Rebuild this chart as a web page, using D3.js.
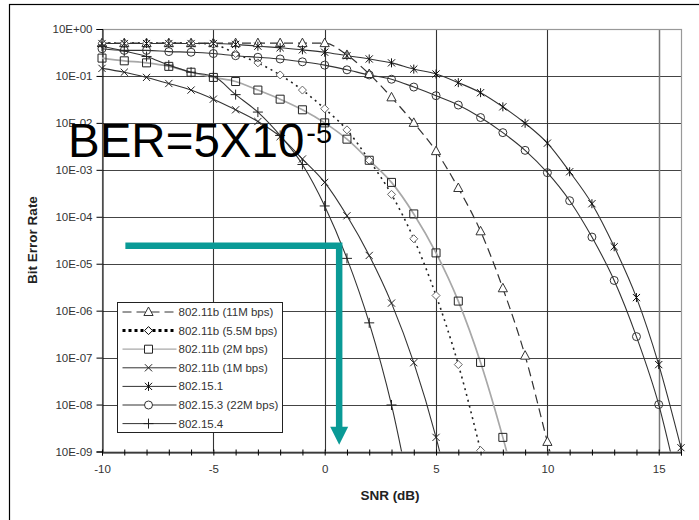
<!DOCTYPE html>
<html>
<head>
<meta charset="utf-8">
<script src="https://cdn.jsdelivr.net/npm/d3@7/dist/d3.min.js"></script>
<style>
  body { margin: 0; background: #fff; }
  svg { display: block; font-family: "Liberation Sans", Arial, sans-serif; }
</style>
</head>
<body>
<svg id="chart" width="699" height="520"></svg>
<script>
// SNR steps (dB), every series starts at -10 dB
const snrDb = [-10,-9,-8,-7,-6,-5,-4,-3,-2,-1,0,1,2,3,4,5,6,7,8,9,10,11,12,13,14,15,16];

// bit error rates (points past 1E-09 are clipped)
const ber11b11M = [5.0e-1,5.0e-1,5.0e-1,5.0e-1,5.0e-1,5.0e-1,5.0e-1,5.0e-1,5.0e-1,5.0e-1,5.0e-1,2.8e-1,1.1e-1,3.5e-2,1.0e-2,2.5e-3,4.1e-4,4.9e-5,3.0e-6,1.1e-7,1.6e-9,2.5e-11];
const ber11b5M5 = [5.0e-1,5.0e-1,5.0e-1,5.0e-1,5.0e-1,4.7e-1,3.0e-1,1.9e-1,1.05e-1,5.0e-2,2.0e-2,7.1e-3,1.6e-3,3.0e-4,3.4e-5,2.1e-6,7.1e-8,1.05e-9];
const ber11b2M = [2.4e-1,2.1e-1,1.9e-1,1.6e-1,1.2e-1,9.3e-2,7.6e-2,5.0e-2,3.2e-2,1.9e-2,1.0e-2,4.5e-3,1.6e-3,5.4e-4,1.15e-4,1.7e-5,1.6e-6,7.9e-8,2.0e-9,3.0e-11];
const ber11b1M = [1.45e-1,1.2e-1,9.3e-2,6.9e-2,5.0e-2,3.2e-2,1.9e-2,1.07e-2,5.1e-3,1.7e-3,5.4e-4,1.05e-4,1.5e-5,1.45e-6,7.8e-8,2.0e-9,2.0e-11];
const ber15_1 = [4.9e-1,4.9e-1,4.9e-1,4.9e-1,4.9e-1,4.9e-1,4.7e-1,4.3e-1,4.0e-1,3.6e-1,3.2e-1,2.7e-1,2.3e-1,1.9e-1,1.4e-1,1.1e-1,7.2e-2,4.4e-2,2.2e-2,9.8e-3,3.7e-3,9.1e-4,1.9e-4,2.3e-5,1.9e-6,7.1e-8,1.2e-9];
const ber15_3 = [3.8e-1,3.5e-1,3.5e-1,3.3e-1,3.2e-1,3.0e-1,2.7e-1,2.5e-1,2.3e-1,2.0e-1,1.7e-1,1.35e-1,1.05e-1,8.5e-2,5.8e-2,3.8e-2,2.4e-2,1.3e-2,6.2e-3,2.6e-3,8.7e-4,2.2e-4,3.7e-5,4.4e-6,2.8e-7,1.0e-8,1.0e-10];
const ber15_4 = [4.3e-1,3.4e-1,2.6e-1,1.7e-1,1.2e-1,9.8e-2,4.0e-2,1.7e-2,5.4e-3,1.3e-3,1.7e-4,1.3e-5,5.5e-7,9.8e-9,5.0e-11];

const seriesNames = ["802.11b (11M bps)", "802.11b (5.5M bps)", "802.11b (2M bps)", "802.11b (1M bps)",
                     "802.15.1", "802.15.3 (22M bps)", "802.15.4"];

const yTickValues = [1, 1e-1, 1e-2, 1e-3, 1e-4, 1e-5, 1e-6, 1e-7, 1e-8, 1e-9];
const yTickLabels = ["10E+00", "10E-01", "10E-02", "10E-03", "10E-04", "10E-05", "10E-06", "10E-07", "10E-08", "10E-09"];
const xTickLabels = [-10, -5, 0, 5, 10, 15];

// the teal annotation arrow: from (-8.95 dB, 2.4E-05) across, then down to 1.4E-09
const arrowSnr = [-8.95, 0.65];
const arrowBer = [2.4e-5, 1.4e-9];

const svg = d3.select("#chart");
const plot = {left: 102, right: 681, top: 29, bottom: 451.5};

const x = d3.scaleLinear().domain([-10, 16]).range([plot.left, plot.right]);
const y = d3.scaleLog().domain([1e-9, 1]).range([plot.bottom, plot.top]);

// outer frame
svg.append("rect")
  .attr("x", 9.5).attr("y", 4.5).attr("width", 720).attr("height", 540)
  .attr("fill", "#fff").attr("stroke", "#000").attr("stroke-width", 1.2);

// grid
svg.append("g").selectAll("line").data(yTickValues).join("line")
  .attr("x1", plot.left).attr("x2", plot.right)
  .attr("y1", d => Math.round(y(d)) + 0.5).attr("y2", d => Math.round(y(d)) + 0.5)
  .attr("stroke", "#444").attr("stroke-width", 1.1);

svg.append("g").selectAll("line").data(xTickLabels.filter(d => d > -10)).join("line")
  .attr("x1", d => Math.round(x(d)) + 0.5).attr("x2", d => Math.round(x(d)) + 0.5)
  .attr("y1", plot.top).attr("y2", plot.bottom)
  .attr("stroke", d => d === 15 ? "#777" : "#333").attr("stroke-width", d => d === 15 ? 1.5 : 1.1);

svg.append("rect")
  .attr("x", plot.left + 0.5).attr("y", plot.top + 0.5)
  .attr("width", plot.right - plot.left).attr("height", plot.bottom - plot.top)
  .attr("fill", "none").attr("stroke", "#999").attr("stroke-width", 1.2);

// axes
const yAxis = svg.append("g")
  .attr("transform", `translate(${plot.left + 0.5},0)`)
  .call(d3.axisLeft(y).tickValues(yTickValues).tickSize(6).tickPadding(4)
    .tickFormat((d, i) => yTickLabels[i]));
yAxis.select(".domain").attr("stroke", "#000");
yAxis.selectAll(".tick line").attr("stroke", "#000");
yAxis.selectAll("text").attr("font-size", 11.5).attr("fill", "#333")
  .attr("font-family", "'Liberation Sans', Arial, sans-serif");

const xAxis = svg.append("g")
  .attr("transform", `translate(0,${Math.round(plot.bottom) + 0.5})`)
  .call(d3.axisBottom(x).tickValues(snrDb).tickSize(3).tickPadding(9)
    .tickFormat(d => xTickLabels.includes(d) ? d : ""));
xAxis.select(".domain").attr("stroke", "#000");
xAxis.selectAll(".tick line").attr("y1", -3).attr("stroke", "#000");
xAxis.selectAll("text").attr("font-size", 11.5).attr("fill", "#333")
  .attr("font-family", "'Liberation Sans', Arial, sans-serif");

svg.append("text")
  .attr("transform", "translate(37,240) rotate(-90)")
  .attr("text-anchor", "middle")
  .attr("font-size", 13.5).attr("font-weight", "bold").attr("fill", "#222")
  .text("Bit Error Rate");

svg.append("text")
  .attr("x", 390).attr("y", 500)
  .attr("text-anchor", "middle")
  .attr("font-size", 13.5).attr("font-weight", "bold").attr("fill", "#222")
  .text("SNR (dB)");

// marker shapes
function markerPath(kind) {
  switch (kind) {
    case "triangle": return "M0,-5L4.6,3.5L-4.6,3.5Z";
    case "diamond":  return "M0,-4L4,0L0,4L-4,0Z";
    case "square":   return "M-4,-4H4V4H-4Z";
    case "x":        return "M-3.6,-3.6L3.6,3.6M-3.6,3.6L3.6,-3.6";
    case "asterisk": return "M-3.6,-3.6L3.6,3.6M-3.6,3.6L3.6,-3.6M0,-4.5V4.5";
    case "circle":   return "M4,0A4,4 0 1,1 -4,0A4,4 0 1,1 4,0Z";
    case "plus":     return "M0,-5V5M-5,0H5";
  }
}

const seriesValues = [ber11b11M, ber11b5M5, ber11b2M, ber11b1M, ber15_1, ber15_3, ber15_4];
const seriesStyle = [
  {marker: "triangle", stroke: "#333", width: 1.2, dash: "9,5", mStroke: "#333", mFill: "#fff"},
  {marker: "diamond",  stroke: "#222", width: 1.6, dash: "2,4", mStroke: "#666", mFill: "#fff"},
  {marker: "square",   stroke: "#a8a8a8", width: 1.7, dash: null, mStroke: "#222", mFill: "none"},
  {marker: "x",        stroke: "#333", width: 1.1, dash: null, mStroke: "#222", mFill: "none"},
  {marker: "asterisk", stroke: "#333", width: 1.1, dash: null, mStroke: "#111", mFill: "none"},
  {marker: "circle",   stroke: "#333", width: 1.1, dash: null, mStroke: "#333", mFill: "none"},
  {marker: "plus",     stroke: "#333", width: 1.1, dash: null, mStroke: "#222", mFill: "none"}
];
const series = seriesNames.map((name, i) => ({
  name: name,
  style: seriesStyle[i],
  points: seriesValues[i].map((v, j) => ({snr: snrDb[j], ber: v}))
}));

svg.append("clipPath").attr("id", "plotClip")
  .append("rect")
  .attr("x", plot.left - 6).attr("y", plot.top - 6)
  .attr("width", plot.right - plot.left + 12).attr("height", plot.bottom - plot.top + 6);

const line = d3.line()
  .x(d => x(d.snr))
  .y(d => y(d.ber))
  .curve(d3.curveMonotoneX);

const lines = svg.append("g").attr("clip-path", "url(#plotClip)");
series.forEach(s => {
  lines.append("path")
    .datum(s.points)
    .attr("fill", "none")
    .attr("stroke", s.style.stroke)
    .attr("stroke-width", s.style.width)
    .attr("stroke-dasharray", s.style.dash)
    .attr("d", line);
});
series.forEach(s => {
  lines.append("g").selectAll("path")
    .data(s.points.filter(d => d.ber >= 1e-9 * 0.9))
    .join("path")
    .attr("transform", d => `translate(${x(d.snr)},${y(d.ber)})`)
    .attr("d", markerPath(s.style.marker))
    .attr("fill", s.style.mFill)
    .attr("stroke", s.style.mStroke)
    .attr("stroke-width", 1);
});

// legend
const legend = svg.append("g").attr("transform", "translate(117.5,302.5)");
legend.append("rect")
  .attr("width", 165).attr("height", 130)
  .attr("fill", "#fff").attr("stroke", "#222").attr("stroke-width", 1);
series.forEach((s, i) => {
  const ly = 9.5 + i * 18.6;
  const g = legend.append("g").attr("transform", `translate(0,${ly})`);
  g.append("line")
    .attr("x1", 5).attr("x2", 59).attr("y1", 0).attr("y2", 0)
    .attr("stroke", i === 1 ? "#000" : s.style.stroke)
    .attr("stroke-width", i === 1 ? 3 : (i === 2 ? 1.2 : 1))
    .attr("stroke-dasharray", i === 1 ? "3,3" : s.style.dash);
  g.append("path")
    .attr("transform", "translate(31,0)")
    .attr("d", markerPath(s.style.marker))
    .attr("fill", "#fff")
    .attr("stroke", i === 1 ? "#000" : s.style.mStroke)
    .attr("stroke-width", 1);
  g.append("text")
    .attr("x", 61).attr("y", 4)
    .attr("font-size", 11.5).attr("fill", "#333")
    .text(s.name);
});

// annotation
const teal = "#0a9a96";
const ax0 = x(arrowSnr[0]), ax1 = x(arrowSnr[1]);
const ay0 = y(arrowBer[0]), ay1 = y(arrowBer[1]);
svg.append("path")
  .attr("d", `M${ax0},${ay0}H${ax1}V${ay1 - 17}`)
  .attr("fill", "none").attr("stroke", teal).attr("stroke-width", 6.5)
  .attr("stroke-linejoin", "miter");
svg.append("path")
  .attr("d", `M${ax1 - 9},${ay1 - 18}H${ax1 + 9}L${ax1},${ay1}Z`)
  .attr("fill", teal);

const ber = svg.append("text")
  .attr("x", 68).attr("y", 157)
  .attr("font-size", 47.5).attr("fill", "#000");
ber.append("tspan").text("BER=5X10");
ber.append("tspan").attr("dx", 2).attr("dy", -14).attr("font-size", 29).text("-5");
</script>
</body>
</html>
